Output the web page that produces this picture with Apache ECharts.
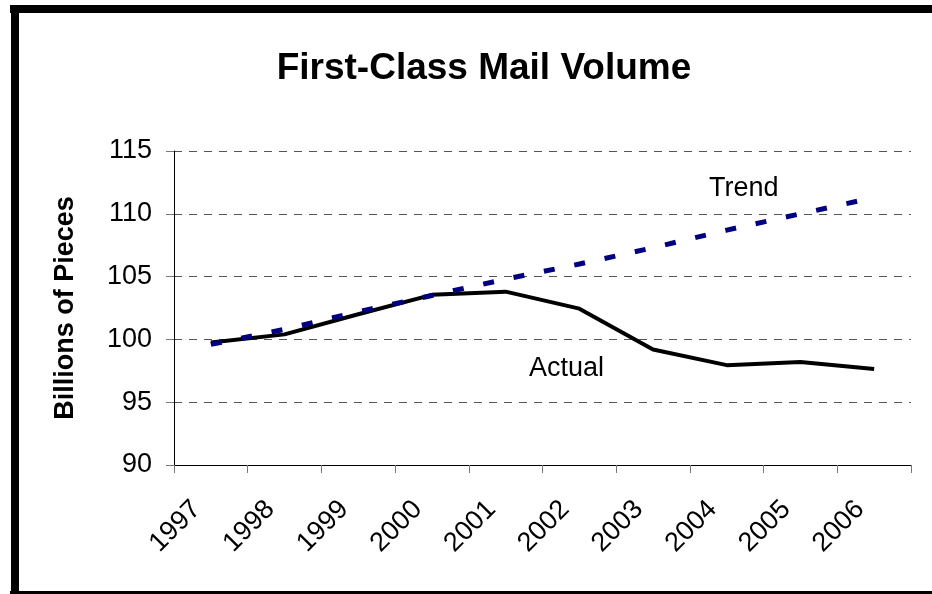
<!DOCTYPE html>
<html>
<head>
<meta charset="utf-8">
<script src="https://cdn.jsdelivr.net/npm/echarts@6/dist/echarts.min.js"></script>
<style>
html,body{margin:0;padding:0;background:#fff;}
#chart{width:932px;height:594px;}
</style>
</head>
<body>
<div id="chart"></div>
<script>
const years = ['1997','1998','1999','2000','2001','2002','2003','2004','2005','2006'];
const actual = [99.75, 100.4, 102.0, 103.55, 103.8, 102.45, 99.2, 97.95, 98.2, 97.65];
const trend = [99.6, 100.8, 102.2, 103.5, 104.8, 106.0, 107.3, 108.7, 110.0, 111.3];
const yTicks = [90, 95, 100, 105, 110, 115];

const FONT = "'Liberation Sans', Arial, sans-serif";
const chart = echarts.init(document.getElementById('chart'), null, {renderer: 'canvas'});
chart.setOption({
  animation: false,
  backgroundColor: '#fff',
  title: {
    text: 'First-Class Mail Volume',
    left: 479, top: 45, textAlign: 'center',
    textStyle: {fontFamily: FONT, fontSize: 37, fontWeight: 'bold', color: '#000'}
  },
  grid: {left: 174, right: 21, top: 151, bottom: 129, containLabel: false},
  xAxis: {
    type: 'category',
    data: years,
    boundaryGap: true,
    axisLine: {lineStyle: {color: '#000', width: 1}},
    axisTick: {show: true, length: 8, lineStyle: {color: '#777'}},
    axisLabel: {
      rotate: 45, margin: 26, fontFamily: FONT, fontSize: 27, color: '#000',
      padding: [0, 20, 0, 0]
    }
  },
  yAxis: {
    type: 'value',
    min: yTicks[0], max: yTicks[yTicks.length - 1], interval: 5,
    name: 'Billions of Pieces',
    nameLocation: 'middle', nameGap: 95, nameRotate: 90,
    nameTextStyle: {fontFamily: FONT, fontSize: 27, fontWeight: 'bold', color: '#000'},
    axisLine: {show: true, lineStyle: {color: '#000', width: 1}},
    axisTick: {show: true, length: 8, lineStyle: {color: '#777'}},
    axisLabel: {margin: 22, fontFamily: FONT, fontSize: 27, color: '#000'},
    splitLine: {show: true, lineStyle: {color: '#555', type: [8, 7], width: 1}}
  },
  series: [
    {
      name: 'Actual', type: 'line', data: actual, symbol: 'none',
      lineStyle: {color: '#000', width: 4}, z: 2
    },
    {
      name: 'Trend', type: 'line', data: trend, symbol: 'none',
      lineStyle: {color: '#000080', width: 5, type: [11, 20]}, z: 3
    }
  ],
  graphic: [
    {type: 'rect', shape: {x: 10, y: 5, width: 922, height: 8}, style: {fill: '#000'}, silent: true},
    {type: 'rect', shape: {x: 11, y: 5, width: 8, height: 589}, style: {fill: '#000'}, silent: true},
    {type: 'rect', shape: {x: 10, y: 591, width: 922, height: 4}, style: {fill: '#000'}, silent: true},
    {type: 'text', x: 709, y: 189, style: {text: 'Trend', font: '27px ' + FONT, fill: '#000', align: 'left', verticalAlign: 'middle'}},
    {type: 'text', x: 529, y: 369, style: {text: 'Actual', font: '27px ' + FONT, fill: '#000', align: 'left', verticalAlign: 'middle'}}
  ]
});
</script>
</body>
</html>
